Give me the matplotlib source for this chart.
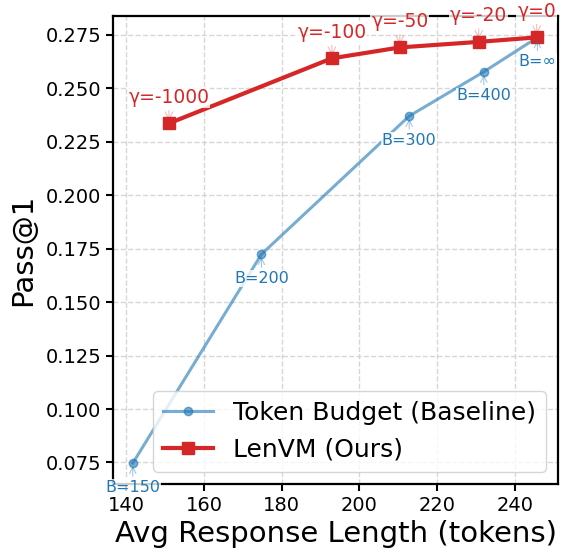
import matplotlib
matplotlib.use('Agg')
import matplotlib.pyplot as plt

# Token Budget baseline
base_len = [141.7, 174.8, 212.8, 232.0, 245.8]
base_pass = [0.0747, 0.1724, 0.2370, 0.2577, 0.2738]
base_labels = ['B=150', 'B=200', 'B=300', 'B=400', 'B=∞']

# LenVM
ours_len = [151.0, 192.9, 210.4, 230.7, 245.6]
ours_pass = [0.2336, 0.2640, 0.2691, 0.2717, 0.2738]
ours_labels = ['γ=-1000', 'γ=-100', 'γ=-50', 'γ=-20', 'γ=0']

blue = '#1f77b4'
red = '#d62728'

fig = plt.figure(figsize=(5.62, 5.59), dpi=100)
ax = fig.add_axes([0.201, 0.134, 0.792, 0.837])

ax.plot(base_len, base_pass, color=blue, alpha=0.6, linewidth=2.2,
        marker='o', markersize=6, label='Token Budget (Baseline)', zorder=3)
ax.plot(ours_len, ours_pass, color=red, linewidth=3,
        marker='s', markersize=9, label='LenVM (Ours)', zorder=4)

# подписи точек со стрелочками
for x, y, t in zip(base_len, base_pass, base_labels):
    ax.annotate(t, xy=(x, y), xytext=(0, -12), textcoords='offset points',
                ha='center', va='top', fontsize=11.5, color=blue,
                bbox=dict(boxstyle='square,pad=0.05', fc='white', ec='none', alpha=0.8),
                arrowprops=dict(arrowstyle='->', color=blue, alpha=0.4, lw=0.8),
                zorder=5)

for x, y, t in zip(ours_len, ours_pass, ours_labels):
    ax.annotate(t, xy=(x, y), xytext=(0, 12), textcoords='offset points',
                ha='center', va='bottom', fontsize=13.5, color=red,
                bbox=dict(boxstyle='square,pad=0.05', fc='white', ec='none', alpha=0.8),
                arrowprops=dict(arrowstyle='->', color=red, alpha=0.3, lw=0.8),
                zorder=5, annotation_clip=False)

ax.set_xlim(136.6, 251.1)
ax.set_ylim(0.0649, 0.2837)
ax.set_xticks([140, 160, 180, 200, 220, 240])
ax.set_yticks([0.075, 0.1, 0.125, 0.15, 0.175, 0.2, 0.225, 0.25, 0.275])
ax.yaxis.set_major_formatter(matplotlib.ticker.FormatStrFormatter('%.3f'))
ax.tick_params(labelsize=14, width=1.5, length=5)
for s in ax.spines.values():
    s.set_linewidth(1.6)

ax.set_xlabel('Avg Response Length (tokens)', fontsize=21, labelpad=4)
ax.set_ylabel('Pass@1', fontsize=21, labelpad=6)
ax.grid(True, linestyle='--', color='#cccccc', alpha=0.8, linewidth=1)
ax.legend(loc='lower right', fontsize=18, framealpha=0.8)

fig.savefig('out.png', dpi=100)
